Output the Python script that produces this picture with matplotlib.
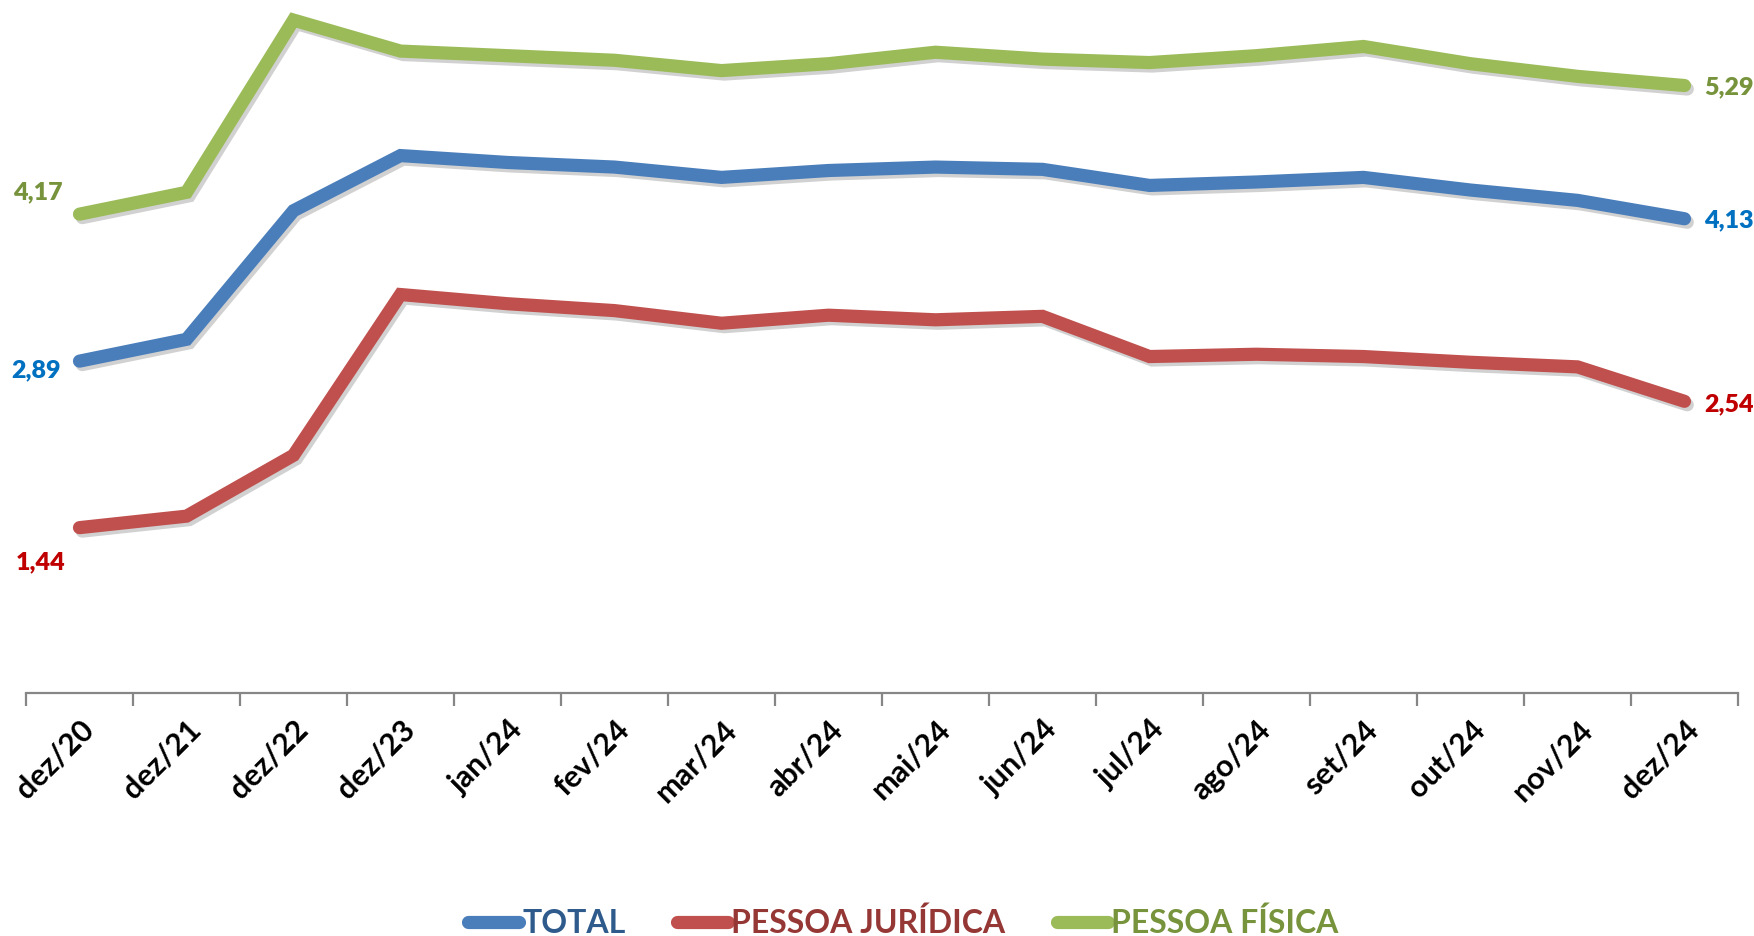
import matplotlib
matplotlib.use("Agg")
import matplotlib.pyplot as plt
import matplotlib.patheffects as pe
from matplotlib.lines import Line2D
from matplotlib.ticker import FixedLocator
import numpy as np

categories = ["dez/20", "dez/21", "dez/22", "dez/23", "jan/24", "fev/24", "mar/24",
              "abr/24", "mai/24", "jun/24", "jul/24", "ago/24", "set/24", "out/24",
              "nov/24", "dez/24"]

total = [2.89, 3.08, 4.20, 4.68, 4.62, 4.58, 4.49, 4.55, 4.58, 4.56, 4.42, 4.45,
         4.49, 4.38, 4.29, 4.13]
pessoa_juridica = [1.44, 1.54, 2.07, 3.47, 3.39, 3.33, 3.22, 3.29, 3.25, 3.28, 2.93,
                   2.95, 2.93, 2.88, 2.84, 2.54]
pessoa_fisica = [4.17, 4.36, 5.86, 5.59, 5.55, 5.51, 5.42, 5.48, 5.58, 5.52, 5.49,
                 5.55, 5.63, 5.48, 5.37, 5.29]

series_names = ["TOTAL", "PESSOA JURÍDICA", "PESSOA FÍSICA"]

FONT = ["Lato", "DejaVu Sans"]
plt.rcParams["font.family"] = FONT

line_colors = ["#4A7EBB", "#C0504D", "#9BBB59"]
label_colors = ["#0070C0", "#C00000", "#77933C"]
legend_text_colors = ["#2E5A8C", "#953735", "#77933C"]

fig = plt.figure(figsize=(17.54, 9.36), dpi=100)
ax = fig.add_axes([26 / 1754, 1 - 693 / 936, (1738 - 26) / 1754, (693 - 4) / 936])

x = np.arange(len(categories))
all_series = [total, pessoa_juridica, pessoa_fisica]
lw = 9.5
shadow = [pe.SimpleLineShadow(offset=(2, -2.5), shadow_color="black", alpha=0.18),
          pe.Normal()]
for vals, c in zip(all_series, line_colors):
    ax.plot(x, vals, color=c, lw=lw, solid_capstyle="round", solid_joinstyle="miter",
            path_effects=shadow, zorder=3)

# end labels (left: first point, right: last point)
left_offsets = [(-19, -9), (-14, -35), (-17, 22)]
right_offsets = [(20, -2), (20, -3), (20, -2)]
for vals, c, lo, ro in zip(all_series, label_colors, left_offsets, right_offsets):
    ax.annotate(f"{vals[0]:.2f}".replace(".", ","), (x[0], vals[0]), xytext=lo,
                textcoords="offset pixels", ha="right", va="center",
                fontsize=18, fontweight="heavy", color=c)
    ax.annotate(f"{vals[-1]:.2f}".replace(".", ","), (x[-1], vals[-1]), xytext=ro,
                textcoords="offset pixels", ha="left", va="center",
                fontsize=18, fontweight="heavy", color=c)

ax.set_xlim(-0.5, len(categories) - 0.5)
ax.set_ylim(0, 6)
for s in ["top", "right", "left"]:
    ax.spines[s].set_visible(False)
ax.spines["bottom"].set_color("#868686")
ax.spines["bottom"].set_linewidth(1.6)
ax.set_yticks([])

ax.set_xticks(x)
ax.set_xticklabels(categories, rotation=45, ha="right", va="top",
                   rotation_mode="anchor", fontsize=22, fontweight="bold")
ax.xaxis.set_minor_locator(FixedLocator(np.arange(-0.5, len(categories), 1.0)))
ax.tick_params(axis="x", which="major", length=0, pad=16)
ax.tick_params(axis="x", which="minor", length=9, width=1.6, color="#868686")

handles = [Line2D([0], [0], color=c, lw=lw, solid_capstyle="round") for c in line_colors]
leg = fig.legend(handles, series_names, loc="center", bbox_to_anchor=(0.515, 0.014),
                 ncol=3, frameon=False, handlelength=1.6, handletextpad=0.1,
                 columnspacing=1.6, prop={"family": FONT, "weight": "bold", "size": 23},
                 labelcolor=legend_text_colors)

fig.savefig("out.png", dpi=100)
